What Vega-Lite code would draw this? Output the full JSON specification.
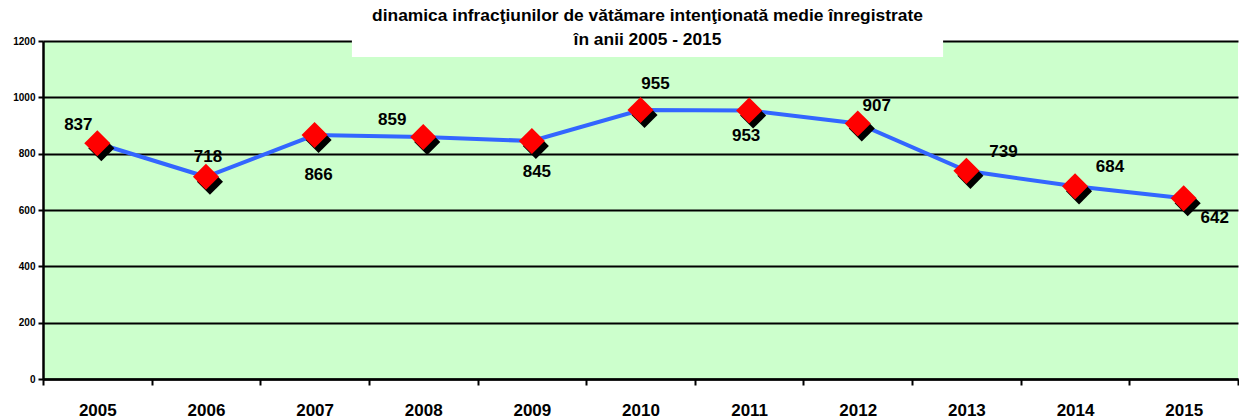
{
  "$schema": "https://vega.github.io/schema/vega-lite/v6.json",
  "width": 1195,
  "height": 338,
  "autosize": {"type": "none"},
  "padding": {"left": 43, "top": 41, "right": 1, "bottom": 39},
  "background": "white",
  "config": {
    "view": {"fill": "#CCFFCC", "stroke": null},
    "font": "Liberation Sans"
  },
  "title": {
    "text": ["dinamica infracţiunilor de vătămare intenţionată medie înregistrate", "în anii 2005 - 2015"],
    "anchor": "middle",
    "frame": "group",
    "font": "Liberation Sans",
    "fontSize": 17.4,
    "fontWeight": "bold",
    "color": "black",
    "lineHeight": 24,
    "baseline": "bottom",
    "offset": -30,
    "dx": 7,
    "zindex": 1
  },
  "data": {
    "values": [
      {"year": "2005", "value": 837},
      {"year": "2006", "value": 718},
      {"year": "2007", "value": 866},
      {"year": "2008", "value": 859},
      {"year": "2009", "value": 845},
      {"year": "2010", "value": 955},
      {"year": "2011", "value": 953},
      {"year": "2012", "value": 907},
      {"year": "2013", "value": 739},
      {"year": "2014", "value": 684},
      {"year": "2015", "value": 642}
    ]
  },
  "encoding": {
    "x": {
      "field": "year",
      "type": "ordinal",
      "scale": {"paddingInner": 0, "paddingOuter": 0},
      "axis": {
        "title": null,
        "labelAngle": 0,
        "labelFont": "Liberation Sans",
        "labelFontSize": 17,
        "labelFontWeight": "bold",
        "labelColor": "black",
        "labelPadding": 17,
        "tickBand": "extent",
        "tickSize": 6,
        "tickWidth": 2,
        "tickColor": "black",
        "domainColor": "black",
        "domainWidth": 2.5,
        "grid": false
      }
    },
    "y": {
      "field": "value",
      "type": "quantitative",
      "scale": {"domain": [0, 1200]},
      "axis": {
        "title": null,
        "values": [0, 200, 400, 600, 800, 1000, 1200],
        "format": "d",
        "labelFont": "Liberation Sans",
        "labelFontSize": 10,
        "labelFontWeight": "bold",
        "labelColor": "black",
        "labelPadding": 3,
        "tickSize": 5,
        "tickWidth": 2,
        "tickColor": "black",
        "domainColor": "black",
        "domainWidth": 2.5,
        "grid": true,
        "gridColor": "black",
        "gridWidth": 2,
        "gridOpacity": 1
      }
    }
  },
  "layer": [
    {
      "data": {"values": [{"from": "2008", "to": "2013", "low": 1143, "high": 1215}]},
      "mark": {"type": "rect", "color": "white", "opacity": 1, "xOffset": -17, "x2Offset": 31},
      "encoding": {
        "x": {"field": "from", "type": "ordinal", "bandPosition": 0},
        "x2": {"field": "to", "bandPosition": 0},
        "y": {"field": "low", "type": "quantitative"},
        "y2": {"field": "high"}
      }
    },
    {
      "mark": {"type": "line", "color": "#3366FF", "strokeWidth": 4}
    },
    {
      "mark": {"type": "point", "shape": "diamond", "filled": true, "size": 680, "color": "black", "opacity": 1, "xOffset": 4, "yOffset": 5}
    },
    {
      "mark": {"type": "point", "shape": "diamond", "filled": true, "size": 680, "color": "#FF0000", "opacity": 1}
    },
    {
      "transform": [{"filter": {"field": "year", "equal": "2005"}}],
      "mark": {"type": "text", "font": "Liberation Sans", "fontSize": 17, "fontWeight": "bold", "color": "black", "baseline": "middle", "dx": -19, "dy": -18},
      "encoding": {"text": {"field": "value", "type": "quantitative"}}
    },
    {
      "transform": [{"filter": {"field": "year", "equal": "2006"}}],
      "mark": {"type": "text", "font": "Liberation Sans", "fontSize": 17, "fontWeight": "bold", "color": "black", "baseline": "middle", "dx": 2, "dy": -20},
      "encoding": {"text": {"field": "value", "type": "quantitative"}}
    },
    {
      "transform": [{"filter": {"field": "year", "equal": "2007"}}],
      "mark": {"type": "text", "font": "Liberation Sans", "fontSize": 17, "fontWeight": "bold", "color": "black", "baseline": "middle", "dx": 4, "dy": 40},
      "encoding": {"text": {"field": "value", "type": "quantitative"}}
    },
    {
      "transform": [{"filter": {"field": "year", "equal": "2008"}}],
      "mark": {"type": "text", "font": "Liberation Sans", "fontSize": 17, "fontWeight": "bold", "color": "black", "baseline": "middle", "dx": -31, "dy": -17},
      "encoding": {"text": {"field": "value", "type": "quantitative"}}
    },
    {
      "transform": [{"filter": {"field": "year", "equal": "2009"}}],
      "mark": {"type": "text", "font": "Liberation Sans", "fontSize": 17, "fontWeight": "bold", "color": "black", "baseline": "middle", "dx": 5, "dy": 31},
      "encoding": {"text": {"field": "value", "type": "quantitative"}}
    },
    {
      "transform": [{"filter": {"field": "year", "equal": "2010"}}],
      "mark": {"type": "text", "font": "Liberation Sans", "fontSize": 17, "fontWeight": "bold", "color": "black", "baseline": "middle", "dx": 15, "dy": -26},
      "encoding": {"text": {"field": "value", "type": "quantitative"}}
    },
    {
      "transform": [{"filter": {"field": "year", "equal": "2011"}}],
      "mark": {"type": "text", "font": "Liberation Sans", "fontSize": 17, "fontWeight": "bold", "color": "black", "baseline": "middle", "dx": -3, "dy": 25},
      "encoding": {"text": {"field": "value", "type": "quantitative"}}
    },
    {
      "transform": [{"filter": {"field": "year", "equal": "2012"}}],
      "mark": {"type": "text", "font": "Liberation Sans", "fontSize": 17, "fontWeight": "bold", "color": "black", "baseline": "middle", "dx": 19, "dy": -18},
      "encoding": {"text": {"field": "value", "type": "quantitative"}}
    },
    {
      "transform": [{"filter": {"field": "year", "equal": "2013"}}],
      "mark": {"type": "text", "font": "Liberation Sans", "fontSize": 17, "fontWeight": "bold", "color": "black", "baseline": "middle", "dx": 37, "dy": -19},
      "encoding": {"text": {"field": "value", "type": "quantitative"}}
    },
    {
      "transform": [{"filter": {"field": "year", "equal": "2014"}}],
      "mark": {"type": "text", "font": "Liberation Sans", "fontSize": 17, "fontWeight": "bold", "color": "black", "baseline": "middle", "dx": 35, "dy": -19},
      "encoding": {"text": {"field": "value", "type": "quantitative"}}
    },
    {
      "transform": [{"filter": {"field": "year", "equal": "2015"}}],
      "mark": {"type": "text", "font": "Liberation Sans", "fontSize": 17, "fontWeight": "bold", "color": "black", "baseline": "middle", "dx": 31, "dy": 20},
      "encoding": {"text": {"field": "value", "type": "quantitative"}}
    }
  ]
}
